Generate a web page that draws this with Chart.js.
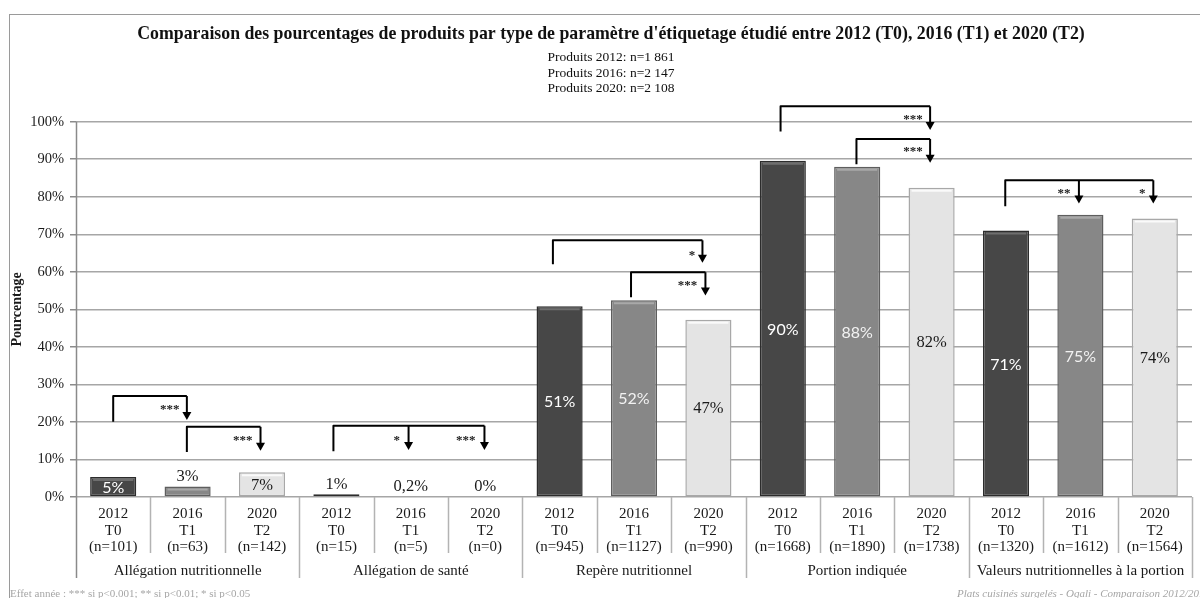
<!DOCTYPE html>
<html><head><meta charset="utf-8">
<script src="https://cdn.jsdelivr.net/npm/chart.js@4.4.1/dist/chart.umd.min.js"></script>
<style>html,body{margin:0;padding:0;background:#fff;}#wrap{width:1200px;height:598px;position:relative;}</style>
</head><body><div id="wrap"><canvas id="c" width="1200" height="598"></canvas></div>
<script>
const chartTitle = "Comparaison des pourcentages de produits par type de paramètre d'étiquetage étudié entre 2012 (T0), 2016 (T1) et 2020 (T2)";
const chartSubtitle = ['Produits 2012: n=1 861', 'Produits 2016: n=2 147', 'Produits 2020: n=2 108'];
const yAxisTitle = 'Pourcentage';
const footLeft = 'Effet année : *** si p<0.001; ** si p<0.01; * si p<0.05';
const footRight = 'Plats cuisinés surgelés - Oqali - Comparaison 2012/2016/2020';

const groups = ['Allégation nutritionnelle', 'Allégation de santé', 'Repère nutritionnel', 'Portion indiquée', 'Valeurs nutritionnelles à la portion'];
const years = ['2012', '2016', '2020'];
const periods = ['T0', 'T1', 'T2'];
const counts2012 = [101, 15, 945, 1668, 1320];
const counts2016 = [63, 5, 1127, 1890, 1612];
const counts2020 = [142, 0, 990, 1738, 1564];
const values2012 = [5.3, 0.7, 50.8, 89.6, 71.0];
const values2016 = [2.8, 0.2, 52.4, 88.0, 75.2];
const values2020 = [6.6, 0, 47.2, 82.4, 74.2];
const labels2012 = ['5%', '1%', '51%', '90%', '71%'];
const labels2016 = ['3%', '0,2%', '52%', '88%', '75%'];
const labels2020 = ['7%', '0%', '47%', '82%', '74%'];
const yTickValues = [0, 10, 20, 30, 40, 50, 60, 70, 80, 90, 100];

// significance brackets (x in category index, y in %)
const brackets = [
  {from: 0.00, base: 20.05, top: 26.9, arrows: [{at: 0.99, tip: 20.5, stars: '***', sx: 0.76, sy: 24.2}]},
  {from: 0.99, base: 12.0, top: 18.7, arrows: [{at: 1.98, tip: 12.3, stars: '***', sx: 1.74, sy: 16.0}]},
  {from: 2.96, base: 12.2, top: 19.0, arrows: [{at: 3.97, tip: 12.5, stars: '*', sx: 3.81, sy: 16.0}, {at: 4.99, tip: 12.5, stars: '***', sx: 4.74, sy: 16.0}]},
  {from: 5.91, base: 62.0, top: 68.4, arrows: [{at: 7.92, tip: 62.4, stars: '*', sx: 7.78, sy: 65.3}]},
  {from: 6.96, base: 53.2, top: 59.9, arrows: [{at: 7.96, tip: 53.7, stars: '***', sx: 7.72, sy: 57.3}]},
  {from: 8.97, base: 97.4, top: 104.1, arrows: [{at: 10.98, tip: 97.8, stars: '***', sx: 10.75, sy: 101.4}]},
  {from: 9.99, base: 88.7, top: 95.4, arrows: [{at: 10.98, tip: 89.1, stars: '***', sx: 10.75, sy: 92.9}]},
  {from: 11.99, base: 77.5, top: 84.4, arrows: [{at: 12.98, tip: 78.2, stars: '**', sx: 12.78, sy: 81.8}, {at: 13.98, tip: 78.2, stars: '*', sx: 13.83, sy: 81.8}]}
];

const fills = ['#474747', '#878787', '#e4e4e4'];
const borders = ['#2c2c2c', '#5e5e5e', '#a8a8a8'];
const highlights = ['#6e6e6e', '#a9a9a9', '#fafafa'];
const labelColors = ['#ffffff', '#f2f2f2', '#1a1a1a'];

const allCounts = [counts2012, counts2016, counts2020];
const allValues = [values2012, values2016, values2020];
const allLabels = [labels2012, labels2016, labels2020];
const cats = [], vals = [], texts = [], per = [];
groups.forEach((g, gi) => {
  for (let p = 0; p < 3; p++) {
    cats.push([years[p], periods[p], '(n=' + allCounts[p][gi] + ')']);
    vals.push(allValues[p][gi]);
    texts.push(allLabels[p][gi]);
    per.push(p);
  }
});

const SERIF = "'Liberation Serif', 'DejaVu Serif', serif";

const decor = {
  id: 'decor',
  beforeDraw(chart) {
    const ctx = chart.ctx;
    ctx.save();
    ctx.fillStyle = '#fff';
    ctx.fillRect(0, 0, chart.width, chart.height);
    ctx.restore();
  },
  afterDatasetsDraw(chart) {
    const ctx = chart.ctx;
    const xs = chart.scales.x, ys = chart.scales.y;
    const meta = chart.getDatasetMeta(0);
    ctx.save();
    meta.data.forEach((bar, i) => {
      const p = per[i];
      const h = bar.base - bar.y;
      const half = bar.width / 2;
      if (h > 5) {
        ctx.strokeStyle = highlights[p];
        ctx.lineWidth = 2;
        ctx.beginPath();
        ctx.moveTo(bar.x - half + 3, bar.y + 3);
        ctx.lineTo(bar.x + half - 3, bar.y + 3);
        ctx.stroke();
      }
      const v = vals[i];
      ctx.textAlign = 'center';
      ctx.textBaseline = 'middle';
      if (v >= 4) {
        if (p < 2) { ctx.font = "16px Lato, 'Open Sans', sans-serif"; }
        else { ctx.font = '16.5px ' + SERIF; }
        ctx.fillStyle = labelColors[p];
        ctx.fillText(texts[i], bar.x, (bar.y + bar.base) / 2 + 1);
      } else {
        ctx.font = '16.5px ' + SERIF;
        ctx.fillStyle = '#1a1a1a';
        ctx.fillText(texts[i], bar.x, bar.y - 10);
      }
    });
    ctx.strokeStyle = '#000';
    ctx.fillStyle = '#000';
    ctx.lineWidth = 2;
    ctx.lineJoin = 'round';
    brackets.forEach(b => {
      const x0 = xs.getPixelForValue(b.from);
      const yb = ys.getPixelForValue(b.base);
      const yt = ys.getPixelForValue(b.top);
      const last = b.arrows[b.arrows.length - 1];
      const x1 = xs.getPixelForValue(last.at);
      ctx.beginPath();
      ctx.moveTo(x0, yb);
      ctx.lineTo(x0, yt);
      ctx.lineTo(x1, yt);
      ctx.stroke();
      b.arrows.forEach(a => {
        const ax = xs.getPixelForValue(a.at);
        const tip = ys.getPixelForValue(a.tip);
        ctx.beginPath();
        ctx.moveTo(ax, yt);
        ctx.lineTo(ax, tip - 7);
        ctx.stroke();
        ctx.beginPath();
        ctx.moveTo(ax - 4.5, tip - 8);
        ctx.lineTo(ax + 4.5, tip - 8);
        ctx.lineTo(ax, tip);
        ctx.closePath();
        ctx.fill();
        ctx.font = 'bold 13px ' + SERIF;
        ctx.textAlign = 'center';
        ctx.textBaseline = 'alphabetic';
        ctx.fillStyle = '#222';
        ctx.fillText(a.stars, xs.getPixelForValue(a.sx), ys.getPixelForValue(a.sy) + 7);
        ctx.fillStyle = '#000';
      });
    });
    ctx.restore();
  },
  afterDraw(chart) {
    const ctx = chart.ctx;
    const xs = chart.scales.x;
    const area = chart.chartArea;
    ctx.save();
    for (let i = 0; i <= cats.length; i++) {
      const x = Math.round(xs.getPixelForValue(i - 0.5)) + 0.5;
      const isGroup = (i % 3 === 0);
      ctx.strokeStyle = i === 0 ? '#8a8a8a' : '#b3b3b3';
      ctx.lineWidth = 1.5;
      ctx.beginPath();
      ctx.moveTo(x, i === 0 ? area.top : area.bottom);
      ctx.lineTo(x, isGroup ? 578 : 553);
      ctx.stroke();
    }
    ctx.font = '15px ' + SERIF;
    ctx.fillStyle = '#1a1a1a';
    ctx.textAlign = 'center';
    ctx.textBaseline = 'middle';
    groups.forEach((g, gi) => {
      ctx.fillText(g, xs.getPixelForValue(gi * 3 + 1), 571);
    });
    ctx.save();
    ctx.translate(17, (area.top + area.bottom) / 2);
    ctx.rotate(-Math.PI / 2);
    ctx.font = 'bold 14px ' + SERIF;
    ctx.fillText(yAxisTitle, 0, 0);
    ctx.restore();
    ctx.font = '11px ' + SERIF;
    ctx.fillStyle = '#a6a6a6';
    ctx.textAlign = 'left';
    ctx.textBaseline = 'alphabetic';
    ctx.fillText(footLeft, 10, 597);
    ctx.font = 'italic 11px ' + SERIF;
    ctx.fillText(footRight, 957, 597);
    ctx.strokeStyle = '#9a9a9a';
    ctx.lineWidth = 1;
    ctx.strokeRect(9.5, 14.5, 1400, 800);
    ctx.restore();
  }
};

new Chart(document.getElementById('c'), {
  type: 'bar',
  data: {
    labels: cats,
    datasets: [{
      data: vals,
      backgroundColor: per.map(p => fills[p]),
      borderColor: per.map(p => borders[p]),
      borderWidth: 1.5,
      borderSkipped: false,
      barPercentage: 0.62,
      categoryPercentage: 1
    }]
  },
  options: {
    responsive: false,
    animation: false,
    layout: {padding: {top: 0, left: 30, right: 8, bottom: 0}},
    plugins: {
      legend: {display: false},
      tooltip: {enabled: false},
      title: {display: true, text: chartTitle, color: '#111', font: {family: SERIF, size: 17.8, weight: 'bold', lineHeight: 1.2}, padding: {top: 24, bottom: 2}},
      subtitle: {display: true, text: chartSubtitle, color: '#111', font: {family: SERIF, size: 13.5, lineHeight: 1.12}, padding: {top: 3, bottom: 26}}
    },
    scales: {
      x: {
        grid: {display: false, drawTicks: false, tickLength: 0},
        border: {display: false},
        ticks: {font: {family: SERIF, size: 15, lineHeight: 1.1}, color: '#1a1a1a', padding: 9, maxRotation: 0, minRotation: 0, autoSkip: false},
        afterFit(s) { s.height = 101; }
      },
      y: {
        min: 0, max: 100,
        afterBuildTicks(s) { s.ticks = yTickValues.map(v => ({value: v})); },
        ticks: {callback: v => v + '%', font: {family: SERIF, size: 14.5}, color: '#1a1a1a', padding: 6},
        grid: {color: '#a6a6a6', lineWidth: 1.5, tickLength: 6, tickColor: '#8a8a8a'},
        border: {display: false},
        afterFit(s) { s.width = 46; }
      }
    }
  },
  plugins: [decor]
});
</script>
</body></html>
